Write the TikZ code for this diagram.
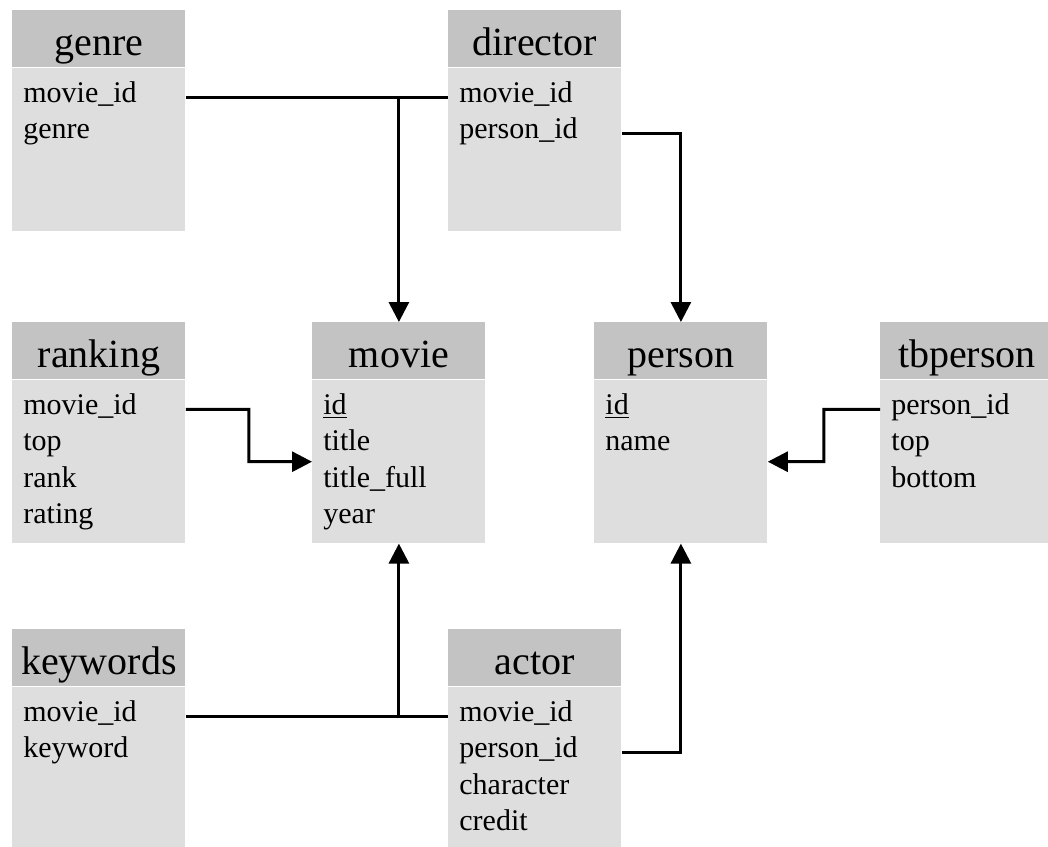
\documentclass[tikz,border=0pt]{standalone}
\usepackage{fontspec}
\setmainfont{Liberation Serif}
\usetikzlibrary{arrows.meta,positioning,calc}

\definecolor{headgray}{HTML}{C3C3C3}
\definecolor{bodygray}{HTML}{DEDEDE}

\begin{document}
\begin{tikzpicture}[
  x=0.5pt, y=0.5pt,
  head/.style={fill=headgray, anchor=north west, minimum width=86.5pt, minimum height=28.5pt, inner sep=0pt, text height=16.5pt, text depth=0pt, font=\fontsize{20}{24}\selectfont},
  body/.style={fill=bodygray, below=0pt of #1, minimum width=86.5pt, minimum height=81.5pt, inner sep=0pt},
  field/.style={anchor=base west, inner sep=0pt, font=\fontsize{15}{18}\selectfont},
  link/.style={line width=1.5pt},
  >={Triangle[length=10pt,width=10pt]}
]
  \useasboundingbox (0,0) rectangle (1048,-846);

  \node[head] (genre) at (12,-10) {genre};
  \node[head] (director) at (448,-10) {director};
  \node[head] (ranking) at (12,-322) {ranking};
  \node[head] (movie) at (312,-322) {movie};
  \node[head] (person) at (594,-322) {person};
  \node[head] (tbperson) at (880,-322) {tbperson};
  \node[head] (keywords) at (12,-629) {keywords};
  \node[head] (actor) at (448,-629) {actor};

  \foreach \t in {genre,director,ranking,movie,person,tbperson,keywords,actor}
    \node[body=\t] (\t-b) {};

  \foreach \f [count=\i] in {movie\_id, genre}
    \node[field] (genre-f\i) at ([shift={(11,{-92-36.5*(\i-1)})}]genre.north west) {\f};
  \foreach \f [count=\i] in {movie\_id, person\_id}
    \node[field] (director-f\i) at ([shift={(11,{-92-36.5*(\i-1)})}]director.north west) {\f};
  \foreach \f [count=\i] in {movie\_id, top, rank, rating}
    \node[field] (ranking-f\i) at ([shift={(11,{-92-36.5*(\i-1)})}]ranking.north west) {\f};
  \foreach \f [count=\i] in {\underline{id}, title, title\_full, year}
    \node[field] (movie-f\i) at ([shift={(11,{-92-36.5*(\i-1)})}]movie.north west) {\f};
  \foreach \f [count=\i] in {\underline{id}, name}
    \node[field] (person-f\i) at ([shift={(11,{-92-36.5*(\i-1)})}]person.north west) {\f};
  \foreach \f [count=\i] in {person\_id, top, bottom}
    \node[field] (tbperson-f\i) at ([shift={(11,{-92-36.5*(\i-1)})}]tbperson.north west) {\f};
  \foreach \f [count=\i] in {movie\_id, keyword}
    \node[field] (keywords-f\i) at ([shift={(11,{-92-36.5*(\i-1)})}]keywords.north west) {\f};
  \foreach \f [count=\i] in {movie\_id, person\_id, character, credit}
    \node[field] (actor-f\i) at ([shift={(11,{-92-36.5*(\i-1)})}]actor.north west) {\f};

  \draw[link] (genre-f1.mid -| genre-b.east) -- (director-f1.mid -| director-b.west);
  \draw[link,->] (movie.north |- genre-f1.mid) -- (movie.north);
  \draw[link,->] (director-f2.mid -| director-b.east) -| (person.north);
  \draw[link,->] (ranking-f1.mid -| ranking-b.east) -| ($(ranking-b.east)!0.5!(movie-b.west)$) -- (movie-b.west);
  \draw[link,->] (tbperson-f1.mid -| tbperson-b.west) -| ($(person-b.east)!0.5!(tbperson-b.west)$) -- (person-b.east);
  \draw[link] (keywords-f1.mid -| keywords-b.east) -- (actor-f1.mid -| actor-b.west);
  \draw[link,->] (movie-b.south |- keywords-f1.mid) -- (movie-b.south);
  \draw[link,->] (actor-f2.mid -| actor-b.east) -| (person-b.south);
\end{tikzpicture}
\end{document}
